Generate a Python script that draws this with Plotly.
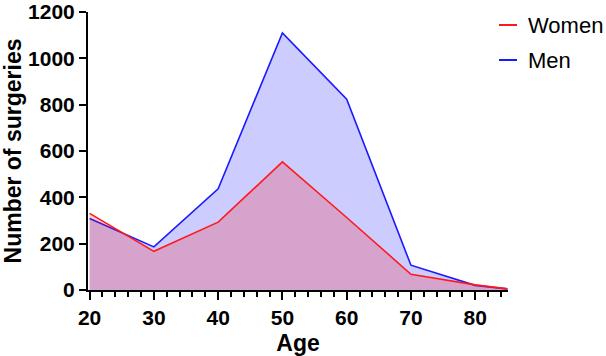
import plotly.graph_objects as go

ages = [20, 30, 40, 50, 60, 70, 80, 85]
women = [331, 167, 293, 553, 313, 68, 22, 5]
men = [309, 186, 437, 1110, 824, 107, 20, 5]
y_ticks = [0, 200, 400, 600, 800, 1000, 1200]
x_ticks = [20, 30, 40, 50, 60, 70, 80]
legend_labels = ["Women", "Men"]
legend_colors = ["#FF1A1A", "#1A1AFF"]

FONT = "Liberation Sans, Arial, Helvetica, sans-serif"

fig = go.Figure()
fig.add_trace(go.Scatter(x=ages, y=men, mode="lines", name="Men",
                         line=dict(color=legend_colors[1], width=1.6),
                         fill="tozeroy", fillcolor="rgba(0,0,255,0.2)"))
fig.add_trace(go.Scatter(x=ages, y=women, mode="lines", name="Women",
                         line=dict(color=legend_colors[0], width=1.6),
                         fill="tozeroy", fillcolor="rgba(255,0,0,0.2)"))

W, H = 606, 356
ml, mr, mt, mb = 88, 98, 12, 66

fig.update_layout(
    width=W, height=H,
    margin=dict(l=ml, r=mr, t=mt, b=mb, autoexpand=False),
    paper_bgcolor="white", plot_bgcolor="white",
    showlegend=False,
    font=dict(family=FONT, color="black"),
)
fig.update_xaxes(
    range=[19.75, 85.1], tickvals=x_ticks, ticktext=[str(v) for v in x_ticks],
    automargin=False, ticklabeloverflow="allow",
    showgrid=False, zeroline=False, showline=True, linecolor="black", linewidth=2,
    ticks="outside", ticklen=8, tickwidth=2, tickcolor="black",
    tickfont=dict(family=FONT, size=21, color="black", weight="bold"),
    minor=dict(dtick=2, tick0=20, ticks="outside", ticklen=5, tickwidth=2, tickcolor="black", showgrid=False),
    title=dict(text="<b>Age</b>", font=dict(family=FONT, size=23, color="black"), standoff=8),
)
fig.update_yaxes(
    range=[0, 1200.2], tickvals=y_ticks, ticktext=[str(v) for v in y_ticks],
    automargin=False, ticklabeloverflow="allow",
    showgrid=False, zeroline=False, showline=True, linecolor="black", linewidth=2,
    ticks="outside", ticklen=7, tickwidth=2, tickcolor="black",
    tickfont=dict(family=FONT, size=21, color="black", weight="bold"),
    title=dict(text="<b>Number of surgeries</b>", font=dict(family=FONT, size=23, color="black"), standoff=6),
)

# manual legend
pw = W - ml - mr
ph = H - mt - mb
def px_x(px):
    return (px - ml) / pw
def px_y(py):
    return 1 - (py - mt) / ph

for i, (lab, col) in enumerate(zip(legend_labels, legend_colors)):
    yy = 25 + i * 35
    fig.add_shape(type="line", xref="paper", yref="paper",
                  x0=px_x(499), x1=px_x(517), y0=px_y(yy), y1=px_y(yy),
                  line=dict(color=col, width=2))
    fig.add_annotation(xref="paper", yref="paper", x=px_x(526), y=px_y(yy),
                       text=lab, showarrow=False, xanchor="left", yanchor="middle",
                       font=dict(family=FONT, size=22, color="black"))

fig.write_html("out.html")
